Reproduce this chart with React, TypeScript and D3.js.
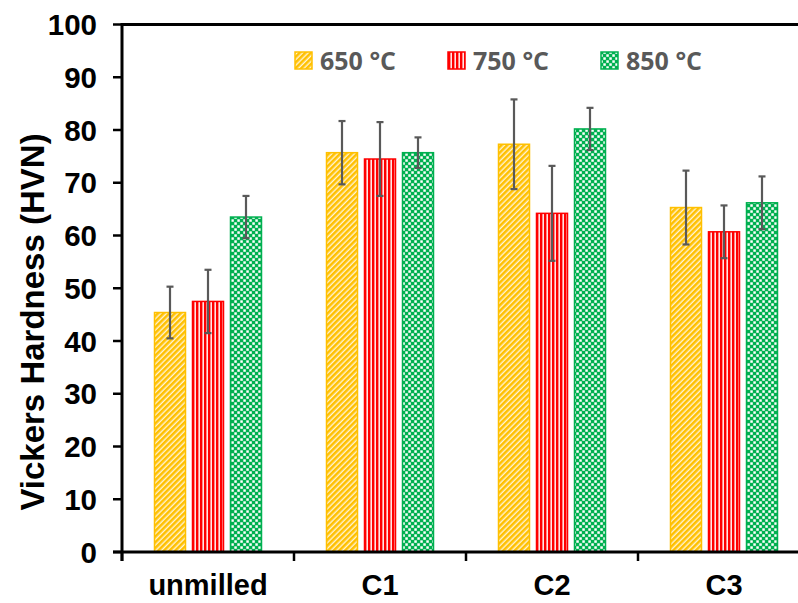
import * as d3 from "d3";

const categories = ["unmilled", "C1", "C2", "C3"];
const series = ["650 °C", "750 °C", "850 °C"];
const values650 = [45.4, 75.7, 77.3, 65.3];
const values750 = [47.5, 74.5, 64.2, 60.7];
const values850 = [63.5, 75.7, 80.2, 66.2];
const errors650 = [4.9, 6.0, 8.5, 7.0];
const errors750 = [6.0, 7.0, 9.0, 5.0];
const errors850 = [4.0, 2.9, 4.0, 5.0];
const yTicks = [0, 10, 20, 30, 40, 50, 60, 70, 80, 90, 100];

const W = 798;
const H = 603;
const X0 = 122;
const X1 = 810;
const Y0 = 552;
const Y1 = 24.5;

const COLORS = ["#FFC000", "#FF0000", "#00B050"];
const PATTERNS = ["pat650", "pat750", "pat850"];
const AXIS_FONT = "'Liberation Sans', Arial, sans-serif";

const seriesValues = [values650, values750, values850];
const seriesErrors = [errors650, errors750, errors850];

export default function App() {
  const x = d3.scaleBand().domain(categories).range([X0, X1]).padding(0);
  const xInner = d3
    .scaleBand()
    .domain(series)
    .range([-53.5, 53.5])
    .paddingInner(7 / 38)
    .paddingOuter(0);
  const y = d3.scaleLinear().domain([0, 100]).range([Y0, Y1]);

  const bars = series.flatMap((s, si) =>
    categories.map((c, ci) => {
      const v = seriesValues[si][ci];
      const e = seriesErrors[si][ci];
      const cx = (x(c) as number) + x.bandwidth() / 2;
      const bx = cx + (xInner(s) as number);
      const mid = bx + xInner.bandwidth() / 2;
      return (
        <g key={s + c}>
          <rect
            x={bx}
            y={y(v)}
            width={xInner.bandwidth()}
            height={Y0 - y(v)}
            fill={`url(#${PATTERNS[si]})`}
            stroke={COLORS[si]}
            strokeWidth={1.5}
          />
          <line x1={mid} x2={mid} y1={y(v + e)} y2={y(v - e)} stroke="#595959" strokeWidth={2.2} />
          <line x1={mid - 3.5} x2={mid + 3.5} y1={y(v + e)} y2={y(v + e)} stroke="#595959" strokeWidth={2.2} />
          <line x1={mid - 3.5} x2={mid + 3.5} y1={y(v - e)} y2={y(v - e)} stroke="#595959" strokeWidth={2.2} />
        </g>
      );
    })
  );

  const boundaries = d3.range(categories.length).map((i) => X0 + i * x.bandwidth());
  const legendX = [295, 448, 601];

  return (
    <svg width={W} height={H} style={{ position: "absolute", left: 0, top: 0, background: "#fff" }}>
      <defs>
        <pattern id="pat650" width={4} height={4} patternUnits="userSpaceOnUse" patternTransform="rotate(45)">
          <rect width={4} height={4} fill="#FFF4D6" />
          <rect width={2.6} height={4} fill="#FFC000" />
        </pattern>
        <pattern id="pat750" width={4} height={4} patternUnits="userSpaceOnUse">
          <rect width={4} height={4} fill="#FFE5E5" />
          <rect width={2.4} height={4} fill="#FF0000" />
        </pattern>
        <pattern id="pat850" width={6} height={6} patternUnits="userSpaceOnUse">
          <rect width={6} height={6} fill="#00B050" />
          <rect x={0.3} y={0.3} width={2.5} height={2.5} fill="#ffffff" />
          <rect x={3.3} y={3.3} width={2.5} height={2.5} fill="#ffffff" />
        </pattern>
      </defs>

      {bars}

      {/* axes */}
      <line x1={X0} x2={W} y1={Y1} y2={Y1} stroke="#000" strokeWidth={3} />
      <line x1={X0} x2={X0} y1={Y1 - 1.5} y2={Y0 + 9} stroke="#000" strokeWidth={3} />
      <line x1={X0 - 9} x2={W} y1={Y0} y2={Y0} stroke="#000" strokeWidth={3} />
      {yTicks.map((t) => (
        <g key={t}>
          <line x1={X0 - 9} x2={X0} y1={y(t)} y2={y(t)} stroke="#000" strokeWidth={2.5} />
          <text
            x={97}
            y={y(t) + 10.5}
            textAnchor="end"
            fontFamily={AXIS_FONT}
            fontWeight="bold"
            fontSize={29.5}
            fill="#000"
          >
            {t}
          </text>
        </g>
      ))}
      {boundaries.map((b) => (
        <line key={b} x1={b} x2={b} y1={Y0} y2={Y0 + 9} stroke="#000" strokeWidth={2.5} />
      ))}
      {categories.map((c) => (
        <text
          key={c}
          x={(x(c) as number) + x.bandwidth() / 2}
          y={595}
          textAnchor="middle"
          fontFamily={AXIS_FONT}
          fontWeight="bold"
          fontSize={29}
          fill="#000"
        >
          {c}
        </text>
      ))}
      <text
        transform="translate(44,322) rotate(-90)"
        textAnchor="middle"
        fontFamily={AXIS_FONT}
        fontWeight="bold"
        fontSize={33}
        fill="#000"
      >
        Vickers Hardness (HVN)
      </text>

      {/* legend */}
      {series.map((s, si) => (
        <g key={s}>
          <rect
            x={legendX[si]}
            y={52}
            width={17}
            height={17}
            fill={`url(#${PATTERNS[si]})`}
            stroke={COLORS[si]}
            strokeWidth={1.5}
          />
          <text
            x={legendX[si] + 25}
            y={69.5}
            fontFamily="'Open Sans', sans-serif"
            fontWeight="bold"
            fontSize={25}
            fill="#595959"
          >
            {s}
          </text>
        </g>
      ))}
    </svg>
  );
}
